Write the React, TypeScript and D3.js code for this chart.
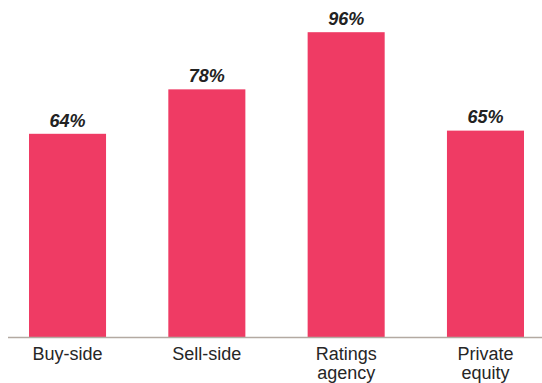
import React from "react";
import * as d3 from "d3";

const categories: string[][] = [["Buy-side"], ["Sell-side"], ["Ratings", "agency"], ["Private", "equity"]];
const values: number[] = [64, 78, 96, 65];
const valueLabels: string[] = ["64%", "78%", "96%", "65%"];

const W = 542;
const H = 383;
const baseY = 337;

export default function App() {
  const x = d3
    .scaleBand<number>()
    .domain(values.map((_, i) => i))
    .range([29, 524])
    .paddingInner(0.447)
    .paddingOuter(0);
  const y = d3.scaleLinear().domain([0, 100]).range([baseY, 19.5]);
  const font = "'Liberation Sans', Arial, Helvetica, sans-serif";

  return (
    <svg
      width={W}
      height={H}
      style={{ position: "absolute", left: 0, top: 0, background: "#fff" }}
    >
      {values.map((v, i) => (
        <g key={i}>
          <rect
            x={x(i)!}
            y={y(v)}
            width={x.bandwidth()}
            height={baseY - y(v)}
            fill="#ef3b64"
          />
          <text
            x={x(i)! + x.bandwidth() / 2}
            y={y(v) - 7.3}
            textAnchor="middle"
            fontFamily={font}
            fontSize={18}
            fontWeight="bold"
            fontStyle="italic"
            fill="#222"
          >
            {valueLabels[i]}
          </text>
          <text
            x={x(i)! + x.bandwidth() / 2}
            y={360}
            textAnchor="middle"
            fontFamily={font}
            fontSize={18}
            fill="#262626"
          >
            {categories[i].map((line, j) => (
              <tspan key={j} x={x(i)! + x.bandwidth() / 2} dy={j === 0 ? 0 : 18.5}>
                {line}
              </tspan>
            ))}
          </text>
        </g>
      ))}
      <line x1={8} x2={W} y1={baseY + 0.5} y2={baseY + 0.5} stroke="#b3aaa2" strokeWidth={1.5} />
    </svg>
  );
}
